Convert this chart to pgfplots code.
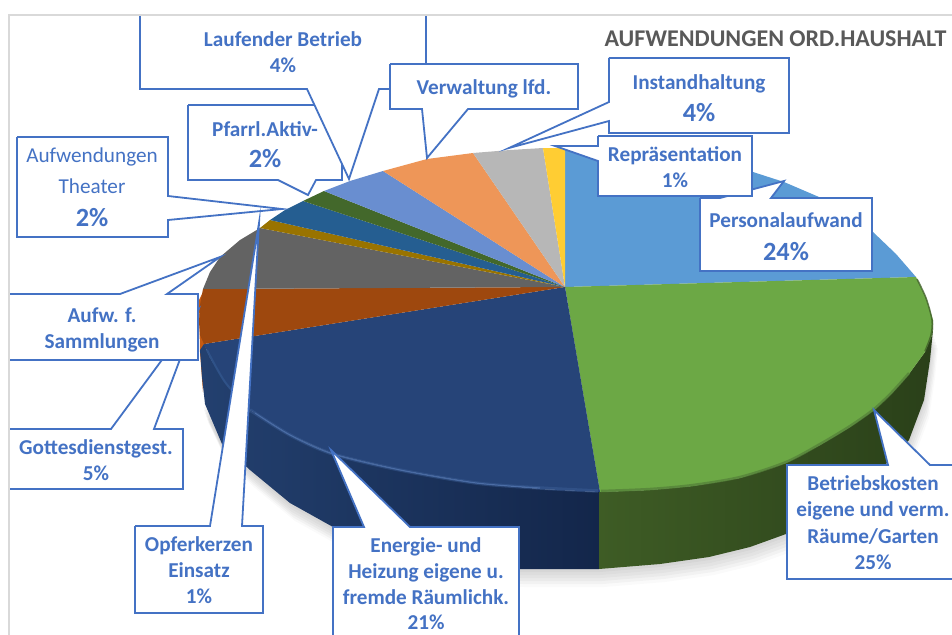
\documentclass[border=0pt]{standalone}
\usepackage{pgfplots}
\usepackage{pgfplotstable}
\usepackage{fontspec}
\setmainfont{Carlito}
\pgfplotsset{compat=1.18}
\definecolor{lb}{HTML}{4472C4}
\definecolor{ttl}{HTML}{595959}
\definecolor{frm}{HTML}{D9D9D9}
\definecolor{sOr}{HTML}{C55A11}
\definecolor{sBa}{HTML}{23406F}
\definecolor{sBb}{HTML}{13264A}
\definecolor{sGa}{HTML}{3E5C25}
\definecolor{sGb}{HTML}{2A4019}
\definecolor{pA}{HTML}{5B9BD5}
\definecolor{pB}{HTML}{6CA845}
\definecolor{pC}{HTML}{264478}
\definecolor{pD}{HTML}{9E480E}
\definecolor{pE}{HTML}{636363}
\definecolor{pF}{HTML}{997300}
\definecolor{pG}{HTML}{255E91}
\definecolor{pH}{HTML}{43682B}
\definecolor{pI}{HTML}{698ED0}
\definecolor{pJ}{HTML}{EE9658}
\definecolor{pK}{HTML}{B7B7B7}
\definecolor{pL}{HTML}{FFCD33}
\definecolor{bvA}{HTML}{2F5288}
\definecolor{bvB}{HTML}{3D6099}
\definecolor{bvC}{HTML}{4F72AC}
\definecolor{bvD}{HTML}{56833A}
\definecolor{bvE}{HTML}{3F5F28}
\pgfplotstableread{
x y
203 404
222 444
250 470
290 503
333 527
365 540
400 550
460 565
519 569
599 569
660 564
709 557
750 547
786 534
820 517
850 495
880 470
909 440
924 400
930 360
933 330
565 300
}\shadowtab
\tikzset{
 cb/.style={draw=lb,fill=white,line width=1.8pt,line join=miter,miter limit=20,mark=none,solid},
 sl/.style={draw=none,mark=none},
}
\newcommand\T[5]{\node[anchor=base,inner sep=0pt,text=lb,font=\fontsize{#1}{#1}\selectfont#2] at (axis cs:#3,#4) {#5};}
\begin{document}
\begin{tikzpicture}
\begin{axis}[at={(0,0)},anchor=south west,scale only axis,width=952pt,height=634pt,
  xmin=0,xmax=952,ymin=0,ymax=634,y dir=reverse,hide axis,clip=true]
% shadow
\addplot[fill=black,draw=none,opacity=.03,yshift=-3pt,xshift=.5pt] table {\shadowtab};
\addplot[fill=black,draw=none,opacity=.03,yshift=-6pt,xshift=1pt] table {\shadowtab};
\addplot[fill=black,draw=none,opacity=.03,yshift=-9pt,xshift=2pt] table {\shadowtab};
\addplot[fill=black,draw=none,opacity=.03,yshift=-12pt,xshift=3pt] table {\shadowtab};
\addplot[fill=black,draw=none,opacity=.03,yshift=-15pt,xshift=4pt] table {\shadowtab};
\addplot[fill=black,draw=none,opacity=.02,yshift=-18pt,xshift=5pt] table {\shadowtab};
% sides
\addplot[sl,fill=sOr] coordinates {(199,300)(204,290)(206,345)(203,392)(200,352)(199,300)};
\addplot[sl,left color=sBa,right color=sBb] coordinates {(200,350)(204,344)(210,358)(225,382)(250,410)(290,435)(333,454)(400,470)(476,483)(540,489)(600,492)(599,569)(519,569)(460,565)(400,550)(365,540)(333,527)(290,503)(250,470)(222,444)(205,404)(202,377)(200,350)};
\addplot[sl,left color=sGa,right color=sGb] coordinates {(599,492)(650,490)(693,486)(740,478)(786,463)(820,445)(850,427)(874,410)(892,393)(909,374)(925,352)(932,335)(933,320)(933,330)(930,360)(924,400)(909,440)(880,470)(850,495)(820,517)(786,534)(750,547)(709,557)(660,564)(599,569)(599,492)};
% top slices
\addplot[sl,fill=pA] coordinates {(565,287)(565,148)(600,149)(650,153)(700,161)(753,172)(784,182)(819,197)(850,215)(873,232)(896,254)(916,277)(565,287)};
\addplot[sl,fill=pB] coordinates {(565,287)(916,277)(926,298)(933,320)(932,335)(925,352)(909,374)(892,393)(874,410)(850,427)(820,445)(786,463)(740,478)(693,486)(650,490)(600,492)(565,287)};
\addplot[sl,fill=pC] coordinates {(565,287)(600,492)(540,489)(476,483)(400,470)(333,454)(290,435)(250,410)(225,382)(210,358)(204,344)(565,287)};
\addplot[sl,fill=pD] coordinates {(565,287)(204,344)(200,335)(199,322)(200,305)(203,289)(565,287)};
\addplot[sl,fill=pE] coordinates {(565,287)(203,289)(210,272)(220,257)(240,240)(260,228)(565,287)};
\addplot[sl,fill=pF] coordinates {(565,287)(260,228)(270,220)(565,287)};
\addplot[sl,fill=pG] coordinates {(565,287)(270,220)(285,210)(303,201)(565,287)};
\addplot[sl,fill=pH] coordinates {(565,287)(303,201)(324,191)(565,287)};
\addplot[sl,fill=pI] coordinates {(565,287)(324,191)(350,181)(383,171)(565,287)};
\addplot[sl,fill=pJ] coordinates {(565,287)(383,171)(427,159)(473,153)(565,287)};
\addplot[sl,fill=pK] coordinates {(565,287)(473,153)(510,150)(543,148)(565,287)};
\addplot[sl,fill=pL] coordinates {(565,287)(543,148)(565,148)(565,287)};
% bevel
\addplot[color=bvA,line width=2pt,mark=none,smooth] coordinates {(207,350)(225,382)(250,410)};
\addplot[color=bvB,line width=3.5pt,mark=none,smooth,opacity=.45] coordinates {(250,410)(290,435)(333,454)(400,470)(476,483)(540,488)(598,491)};
\addplot[color=bvC,line width=1.2pt,mark=none,smooth,opacity=.8] coordinates {(255,413)(290,435)(333,454)(400,470)(476,483)(540,488)};
\addplot[color=bvD,line width=2.5pt,mark=none,smooth,opacity=.8] coordinates {(601,491)(650,489)(693,485)(740,477)(786,462)(820,444)(850,426)(874,409)(892,392)(909,373)};
\addplot[color=bvE,line width=1.5pt,mark=none,smooth,opacity=.8] coordinates {(917,279)(926,298)(932,320)(931,335)(925,351)};
% callouts
\addplot[cb] coordinates {(188,105)(342,105)(342,180)(316,180)(308,195)(278,180)(188,180)(188,105)};
\addplot[cb] coordinates {(140,15)(140,89)(307,89)(349,179)(379,89)(426,89)(426,15)};
\addplot[cb] coordinates {(390,64)(578,64)(578,109)(468,109)(427,158)(422,109)(390,109)(390,64)};
\addplot[cb] coordinates {(17,137)(168,137)(168,196)(282,209)(168,220)(168,237)(17,237)(17,137)};
\addplot[cb] coordinates {(9,429)(111,429)(198,311)(154,429)(183,429)(183,489)(9,489)};
\addplot[cb] coordinates {(9,294)(120,294)(220,257)(167,294)(198,294)(198,360)(9,360)};
\addplot[cb] coordinates {(135,526)(210,526)(259,223)(242,526)(263,526)(263,613)(135,613)(135,526)};
\addplot[cb] coordinates {(333,640)(333,527)(364,527)(331,450)(410,527)(519,527)(519,640)};
\addplot[cb] coordinates {(960,465)(930,465)(874,410)(888,465)(787,465)(787,579)(960,579)};
\addplot[cb] coordinates {(700,198)(720,198)(784,181)(771,198)(872,198)(872,271)(700,271)(700,198)};
\addplot[cb] coordinates {(598,136)(752,136)(752,196)(598,196)(598,161)(555,146)(598,146)(598,136)};
\addplot[cb] coordinates {(609,58)(789,58)(789,133)(609,133)(609,121)(509,148)(609,102)(609,58)};
% frame
\addplot[color=frm,line width=2pt,mark=none] coordinates {(9,640)(9,15)(960,15)};
% text
\node[anchor=base,inner sep=0pt,text=ttl,font=\fontsize{24}{24}\selectfont\bfseries] at (axis cs:775.5,47) {AUFWENDUNGEN ORD.HAUSHALT};
\T{21.2}{\bfseries}{283}{47}{Laufender Betrieb}
\T{21.2}{\bfseries}{283}{73}{4\%}
\T{21.2}{\bfseries}{484}{94}{Verwaltung lfd.}
\T{21.2}{\bfseries}{699}{89}{Instandhaltung}
\T{26.3}{\bfseries}{699}{121}{4\%}
\T{21.2}{\bfseries}{675}{161}{Repräsentation}
\T{21.2}{\bfseries}{675}{187}{1\%}
\T{21.2}{\bfseries}{786}{227}{Personalaufwand}
\T{26.3}{\bfseries}{786}{260}{24\%}
\T{21.2}{\bfseries}{873}{490}{Betriebskosten}
\T{21.2}{\bfseries}{873}{516}{eigene und verm.}
\T{21.2}{\bfseries}{873}{543}{Räume/Garten}
\T{21.2}{\bfseries}{873}{569}{25\%}
\T{21.2}{\bfseries}{426}{552}{Energie- und}
\T{21.2}{\bfseries}{426}{578}{Heizung eigene u.}
\T{21.2}{\bfseries}{426}{604}{fremde Räumlichk.}
\T{21.2}{\bfseries}{426}{629}{21\%}
\T{21.2}{\bfseries}{199}{551}{Opferkerzen}
\T{21.2}{\bfseries}{199}{577}{Einsatz}
\T{21.2}{\bfseries}{199}{603}{1\%}
\T{21.2}{\bfseries}{96}{454}{Gottesdienstgest.}
\T{21.2}{\bfseries}{96}{480}{5\%}
\T{21.2}{\bfseries}{102}{322}{Aufw. f.}
\T{21.2}{\bfseries}{102}{348}{Sammlungen}
\T{21.2}{}{92}{162}{Aufwendungen}
\T{21.2}{}{92}{193}{Theater}
\T{26.3}{\bfseries}{92}{226}{2\%}
\T{21.2}{\bfseries}{265}{136}{Pfarrl.Aktiv-}
\T{26.3}{\bfseries}{265}{167}{2\%}
\end{axis}
\pgfresetboundingbox
\path[use as bounding box] (0,0) rectangle (952pt,634pt);
\end{tikzpicture}
\end{document}
